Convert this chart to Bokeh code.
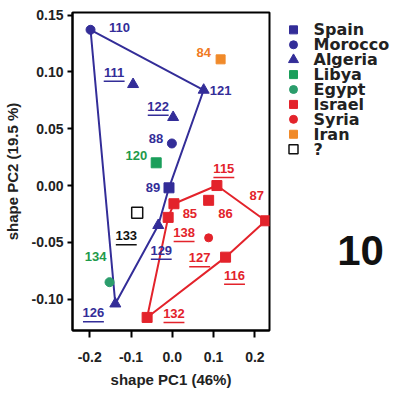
from bokeh.plotting import figure
from bokeh.layouts import row
from bokeh.models import Range1d, NumeralTickFormatter, FixedTicker, ColumnDataSource
from bokeh.core.properties import value
from bokeh.embed import file_html
from bokeh.resources import INLINE

# ---------------- data ----------------
specimen = ["110", "121", "111", "122", "88", "120", "84", "89", "115", "85",
            "86", "87", "138", "127", "116", "132", "129", "126", "134", "133"]
country = ["Morocco", "Algeria", "Algeria", "Algeria", "Morocco", "Libya", "Iran", "Spain", "Israel", "Israel",
           "Israel", "Israel", "Israel", "Syria", "Israel", "Israel", "Algeria", "Algeria", "Egypt", "?"]
pc1 = [-0.198, 0.076, -0.095, 0.002, -0.001, -0.039, 0.117, -0.008, 0.108, 0.004,
       0.088, 0.226, -0.010, 0.088, 0.129, -0.061, -0.034, -0.138, -0.152, -0.085]
pc2 = [0.137, 0.084, 0.089, 0.060, 0.037, 0.020, 0.111, -0.002, 0.000, -0.016,
       -0.013, -0.031, -0.028, -0.046, -0.063, -0.116, -0.035, -0.104, -0.085, -0.024]
underlined = ["111", "122", "129", "126", "133", "115", "138", "127", "116", "132"]
countries = ["Spain", "Morocco", "Algeria", "Libya", "Egypt", "Israel", "Syria", "Iran", "?"]
blue_hull = ["110", "121", "89", "129", "126"]
red_hull = ["132", "138", "85", "115", "87", "116"]
x_ticks = [-0.2, -0.1, 0.0, 0.1, 0.2]
y_ticks = [-0.10, -0.05, 0.0, 0.05, 0.10, 0.15]
panel_label = "10"
x_title = "shape PC1 (46%)"
y_title = "shape PC2 (19.5 %)"

# ---------------- styles ----------------
BLUE = "#332d98"
RED = "#e3232b"
marker = {"Spain": "square", "Morocco": "circle", "Algeria": "triangle", "Libya": "square",
          "Egypt": "circle", "Israel": "square", "Syria": "circle", "Iran": "square", "?": "square"}
fill = {"Spain": BLUE, "Morocco": BLUE, "Algeria": BLUE, "Libya": "#1a9e5a", "Egypt": "#2b9d6c",
        "Israel": RED, "Syria": RED, "Iran": "#f08a2a", "?": None}
size = {"Spain": 10, "Morocco": 9, "Algeria": 11, "Libya": 10, "Egypt": 9,
        "Israel": 10, "Syria": 8, "Iran": 9, "?": 11}
text_color = {"Spain": BLUE, "Morocco": BLUE, "Algeria": BLUE, "Libya": "#1e9a4a", "Egypt": "#1e9a4a",
              "Israel": RED, "Syria": RED, "Iran": "#f07a22", "?": "#111111"}
# label offsets from their point, in pixels (right, down)
offsets = {"110": (29, -2), "121": (17, 0), "111": (-19, -12), "122": (-15, -11), "88": (-16, -5),
           "120": (-20, -7), "84": (-17, -7), "89": (-16, 0), "115": (7, -17), "85": (16, 10),
           "86": (17, 13), "87": (-9, -25), "138": (16, 15), "127": (-9, 20), "116": (9, 18),
           "132": (27, -4), "129": (3, 25), "126": (-22, 9), "134": (-14, -26), "133": (-11, 23)}

X0, X1 = -0.2417, 0.2354
Y0, Y1 = -0.1275, 0.1522
ML, MR, MT, MB = 71, 2, 12, 73
W, H = 271, 403
LW = 402 - W
FW, FH = W - ML - MR, H - MT - MB
sx = FW / (X1 - X0)
sy = FH / (Y1 - Y0)
LABEL_FONT = value("Liberation Sans")

p = figure(width=W, height=H, output_backend="svg", toolbar_location=None,
           x_range=Range1d(X0, X1), y_range=Range1d(Y0, Y1),
           min_border_left=ML, min_border_right=MR, min_border_top=MT, min_border_bottom=MB)
p.background_fill_color = "white"
p.border_fill_color = "white"
p.outline_line_color = "black"
p.outline_line_width = 2
p.grid.visible = False

for ax in (p.xaxis, p.yaxis):
    ax.axis_line_width = 2
    ax.major_tick_line_width = 2
    ax.minor_tick_line_color = None
    ax.major_tick_in = 0
    ax.major_label_text_font = "Liberation Sans"
    ax.major_label_text_font_style = "bold"
    ax.major_label_text_font_size = "14px"
    ax.major_label_text_color = "#222222"
    ax.axis_label_text_font = "Liberation Sans"
    ax.axis_label_text_font_style = "bold"
    ax.axis_label_text_font_size = "15px"
    ax.axis_label_text_color = "#222222"

p.xaxis.ticker = FixedTicker(ticks=x_ticks)
p.yaxis.ticker = FixedTicker(ticks=y_ticks)
p.xaxis.formatter = NumeralTickFormatter(format="0.0")
p.yaxis.formatter = NumeralTickFormatter(format="0.00")
p.xaxis.major_tick_out = 7
p.xaxis.major_label_standoff = 14
p.yaxis.major_tick_out = 5
p.yaxis.major_label_standoff = 4
p.xaxis.axis_label = x_title
p.yaxis.axis_label = y_title
p.xaxis.axis_label_standoff = 6
p.yaxis.axis_label_standoff = 8

pos = {s: (x, y) for s, x, y in zip(specimen, pc1, pc2)}

# hulls
bx = [pos[s][0] for s in blue_hull] + [pos[blue_hull[0]][0]]
by = [pos[s][1] for s in blue_hull] + [pos[blue_hull[0]][1]]
p.line(bx, by, line_color=BLUE, line_width=2)
rx = [pos[s][0] for s in red_hull] + [pos[red_hull[0]][0]]
ry = [pos[s][1] for s in red_hull] + [pos[red_hull[0]][1]]
p.line(rx, ry, line_color=RED, line_width=2)

# points per country
for c in countries:
    xs = [x for x, cc in zip(pc1, country) if cc == c]
    ys = [y for y, cc in zip(pc2, country) if cc == c]
    if c == "?":
        p.scatter(xs, ys, marker=marker[c], size=size[c], fill_color=None,
                  line_color="#111111", line_width=1.5)
    else:
        p.scatter(xs, ys, marker=marker[c], size=size[c], fill_color=fill[c],
                  line_color=fill[c], line_width=1)

# labels
lx, ly, lc = [], [], []
ux0, ux1, uy, uc = [], [], [], []
for s, c in zip(specimen, country):
    dx, dy = offsets[s]
    x = pos[s][0] + dx / sx
    y = pos[s][1] - dy / sy
    lx.append(x); ly.append(y); lc.append(text_color[c])
    if s in underlined:
        half = 10.5 if len(s) == 3 else 7
        ux0.append(x - half / sx); ux1.append(x + half / sx)
        uy.append(y - 9 / sy); uc.append(text_color[c])

src = ColumnDataSource(dict(x=lx, y=ly, t=specimen, c=lc))
p.text("x", "y", text="t", source=src, text_color="c", text_align="center", text_baseline="middle",
       text_font=LABEL_FONT, text_font_style="bold", text_font_size="13px")
p.segment(ux0, uy, ux1, uy, line_color=uc, line_width=1.5)

# ---------------- legend panel ----------------
q = figure(width=LW, height=H, output_backend="svg", toolbar_location=None,
           x_range=Range1d(0, LW), y_range=Range1d(H, 0),
           min_border=0, x_axis_location=None, y_axis_location=None)
q.outline_line_color = None
q.grid.visible = False
q.background_fill_color = "white"
q.border_fill_color = "white"

ROW0, ROWH, GX, TX = 22, 18.9, 22, 42
for i, c in enumerate(countries):
    yy = ROW0 + ROWH * i
    if c == "?":
        q.scatter([GX], [yy], marker="square", size=9, fill_color=None, line_color="#111111", line_width=1.5)
    else:
        q.scatter([GX], [yy], marker=marker[c], size=8 if marker[c] != "triangle" else 10,
                  fill_color=fill[c], line_color=fill[c])
q.text([TX] * len(countries), [ROW0 + ROWH * i for i in range(len(countries))], text=countries,
       text_align="left", text_baseline="middle", text_font=value("DejaVu Sans"),
       text_font_style="bold", text_font_size="16px", text_color="#222222")

q.text([360 - W], [301], text=[panel_label], text_align="center", text_baseline="middle",
       text_font=value("Liberation Sans"), text_font_style="bold", text_font_size="42px",
       text_color="#111111")

layout = row(p, q, spacing=0)
open("out.html", "w").write(file_html(layout, INLINE))
